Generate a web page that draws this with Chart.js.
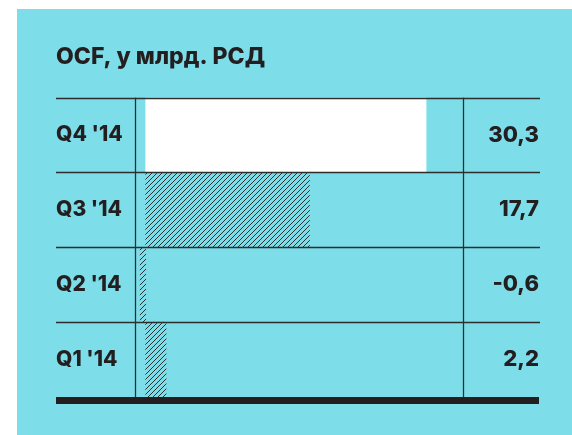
<!DOCTYPE html>
<html lang="sr">
<head>
<meta charset="utf-8">
<title>OCF</title>
<script src="https://cdn.jsdelivr.net/npm/chart.js@4/dist/chart.umd.min.js"></script>
<style>
  html, body { margin: 0; padding: 0; background: #fff; }
  .panel { position: absolute; left: 17px; top: 9px; width: 555px; height: 426px; background: #7ddde9; }
  #ocfChart { position: absolute; left: 0; top: 0; }
</style>
</head>
<body>
<div class="panel"></div>
<canvas id="ocfChart" width="572" height="435"></canvas>
<script>
const chartTitle = 'OCF, у млрд. РСД';
const quarters = ["Q4 '14", "Q3 '14", "Q2 '14", "Q1 '14"];
const ocfValues = [30.3, 17.7, -0.6, 2.2];

const INK = '#231f20';
const LINE = '#2e2e2e';
const FONT = 'Inter, Lato, "Noto Sans", sans-serif';

Chart.defaults.font.family = FONT;
Chart.defaults.color = INK;

// diagonal "///" hatch used for the older quarters
function makeHatch() {
  const size = 5;
  const c = document.createElement('canvas');
  c.width = size;
  c.height = size;
  const g = c.getContext('2d');
  g.strokeStyle = '#303030';
  g.lineWidth = 1;
  g.beginPath();
  g.moveTo(0, size); g.lineTo(size, 0);
  g.moveTo(-1, 1); g.lineTo(1, -1);
  g.moveTo(size - 1, size + 1); g.lineTo(size + 1, size - 1);
  g.stroke();
  return g.createPattern(c, 'repeat');
}

function formatValue(v) {
  return v.toFixed(1).replace('.', ',');
}

// table rules, vertical dividers and the value column on the right
const tablePlugin = {
  id: 'tableLines',
  afterDatasetsDraw(chart) {
    const { ctx, chartArea, scales: { y } } = chart;
    const left = chart.options.layout.padding.left;
    const right = chartArea.right + 76;
    const step = y.getPixelForValue(1) - y.getPixelForValue(0);

    ctx.save();
    ctx.strokeStyle = LINE;
    ctx.lineWidth = 1.3;
    ctx.beginPath();
    for (let i = 0; i < quarters.length; i++) {
      const yy = Math.round(y.getPixelForValue(i) - step / 2) + 0.5;
      ctx.moveTo(left, yy);
      ctx.lineTo(right, yy);
    }
    [chartArea.left, chartArea.right].forEach(x => {
      const xx = Math.round(x) - 0.5;
      ctx.moveTo(xx, chartArea.top);
      ctx.lineTo(xx, chartArea.bottom);
    });
    ctx.stroke();

    // thick bottom rule
    ctx.fillStyle = INK;
    ctx.fillRect(left, chartArea.bottom, right - left - 1, 7);

    // values
    ctx.font = '800 22px ' + FONT;
    ctx.textAlign = 'right';
    ctx.textBaseline = 'middle';
    ocfValues.forEach((v, i) => {
      ctx.fillText(formatValue(v), right - 1, y.getPixelForValue(i));
    });
    ctx.restore();
  }
};

const hatch = makeHatch();
const barFills = ocfValues.map((v, i) => (i === 0 ? '#ffffff' : hatch));

new Chart(document.getElementById('ocfChart'), {
  type: 'bar',
  data: {
    labels: quarters,
    datasets: [{
      data: ocfValues,
      backgroundColor: barFills,
      borderWidth: 0,
      barPercentage: 1,
      categoryPercentage: 1
    }]
  },
  options: {
    indexAxis: 'y',
    responsive: false,
    animation: false,
    layout: {
      padding: { left: 56, right: 108, top: 0, bottom: 38 }
    },
    plugins: {
      legend: { display: false },
      tooltip: { enabled: false },
      title: {
        display: true,
        text: chartTitle,
        align: 'start',
        color: INK,
        font: { size: 23, weight: 800, lineHeight: 1.2 },
        padding: { top: 43, bottom: 27 }
      }
    },
    scales: {
      x: {
        display: false,
        min: -1.05,
        max: 34.4
      },
      y: {
        grid: { display: false },
        border: { display: false },
        afterFit(scale) {
          scale.width = 80;
        },
        ticks: {
          crossAlign: 'far',
          padding: 0,
          color: INK,
          font: { size: 21, weight: 800 }
        }
      }
    }
  },
  plugins: [tablePlugin]
});
</script>
</body>
</html>
